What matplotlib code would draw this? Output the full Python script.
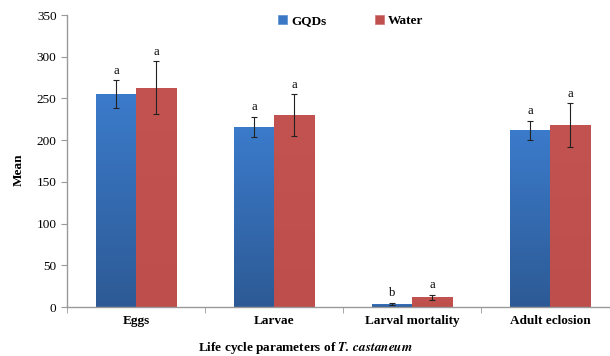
import matplotlib
matplotlib.use("Agg")
import matplotlib.pyplot as plt
import numpy as np
from matplotlib.colors import LinearSegmentedColormap

categories = ["Eggs", "Larvae", "Larval mortality", "Adult eclosion"]
gqds = [255, 216, 3.6, 212]
gqds_err = [17, 12, 1.5, 11.5]
water = [263, 230, 11.6, 218]
water_err = [32, 25, 3, 26]
gqds_letters = ["a", "a", "b", "a"]
water_letters = ["a", "a", "a", "a"]

plt.rcParams['font.family'] = ['Liberation Serif', 'DejaVu Serif']
plt.rcParams['mathtext.fontset'] = 'stix'

fig = plt.figure(figsize=(6.1, 3.56), dpi=100)
ax = fig.add_axes([0.1098, 0.1376, 0.905, 0.8202])

x = np.arange(len(categories))
w = 0.29
blue = "#3A78C6"
red = "#C0504D"

b1 = ax.bar(x - w/2, gqds, w, color=blue, edgecolor="#5A8FD0", linewidth=0.5, zorder=2, label="GQDs")
b2 = ax.bar(x + w/2, water, w, color=red, edgecolor="#D07370", linewidth=0.5, zorder=2, label="Water")

# gradient on bars
cm_b = LinearSegmentedColormap.from_list("b", ["#2D5A95", "#3B7BCB"])
cm_r = LinearSegmentedColormap.from_list("r", ["#BD4E4B", "#C25350"])
grad = np.linspace(0, 1, 256).reshape(-1, 1)
for bars, cm in ((b1, cm_b), (b2, cm_r)):
    for bar in bars:
        bx, by = bar.get_x(), bar.get_y()
        bw, bh = bar.get_width(), bar.get_height()
        im = ax.imshow(grad, extent=[bx, bx + bw, by, by + bh], origin="lower",
                       aspect="auto", cmap=cm, zorder=2.1)
        im.set_clip_path(bar)

ax.errorbar(x - w/2, gqds, yerr=gqds_err, fmt="none", ecolor="#222222", elinewidth=0.8, capsize=2, capthick=0.8, zorder=3)
ax.errorbar(x + w/2, water, yerr=water_err, fmt="none", ecolor="#222222", elinewidth=0.8, capsize=2, capthick=0.8, zorder=3)

for i in range(len(categories)):
    ax.text(x[i] - w/2, gqds[i] + gqds_err[i] + 4, gqds_letters[i], ha="center", va="bottom", fontsize=9)
    ax.text(x[i] + w/2, water[i] + water_err[i] + 4, water_letters[i], ha="center", va="bottom", fontsize=9)

ax.set_xlim(-0.5, len(categories) - 0.5)
ax.set_ylim(0, 350)
ax.set_yticks(np.arange(0, 351, 50))
ax.set_xticks(x)
ax.set_xticklabels(categories, fontweight="bold", fontsize=9.5)
ax.set_xticks(np.arange(-0.5, len(categories), 1), minor=True)
ax.tick_params(axis="x", which="major", length=0, pad=6)
ax.tick_params(axis="x", which="minor", length=4, color="#999999")
ax.tick_params(axis="y", length=4, color="#999999", labelsize=9.5)

for s in ["top", "right"]:
    ax.spines[s].set_visible(False)
for s in ["left", "bottom"]:
    ax.spines[s].set_color("#999999")
    ax.spines[s].set_linewidth(1.0)

ax.set_ylabel("Mean", fontweight="bold", fontsize=9.5)
ax.yaxis.set_label_coords(-0.076, 0.47)
fig.text(0.5, 0.015, "Life cycle parameters of $\\mathbfit{T.\\,castaneum}$", ha="center", fontsize=9.5, fontweight="bold")

leg = ax.legend(loc="upper center", bbox_to_anchor=(0.514, 1.04), ncol=2, frameon=False,
                prop={"weight": "bold", "size": 9.5}, handlelength=0.7, handleheight=0.7,
                columnspacing=3.7, handletextpad=0.3)

fig.savefig("out.png", dpi=100)
